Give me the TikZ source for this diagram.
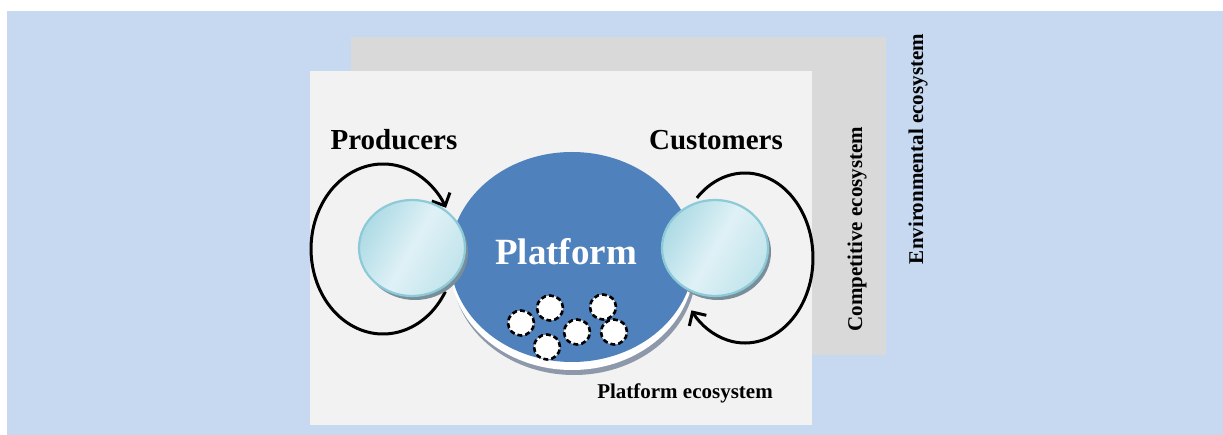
\documentclass[tikz,border=0pt]{standalone}
\usepackage{fontspec}
\setmainfont{Liberation Serif}
\usetikzlibrary{arrows.meta,shapes.geometric}
\definecolor{envblue}{HTML}{C6D9F1}
\definecolor{compgray}{HTML}{D9D9D9}
\definecolor{platbg}{HTML}{F2F2F2}
\definecolor{platblue}{HTML}{4F81BD}
\definecolor{shadegray}{HTML}{8D99AA}
\definecolor{bubdark}{HTML}{AEDBE5}
\definecolor{bublight}{HTML}{DFF1F6}
\definecolor{bubedge}{HTML}{8CCAD8}
\definecolor{bubshadow}{HTML}{7A8E9A}
\begin{document}
\begin{tikzpicture}[x=1pt,y=1pt,
  bub/.style={ellipse, inner sep=0pt, minimum width=106pt, minimum height=96pt,
    draw=bubedge, line width=2.2pt, shading=axis, left color=bubdark, right color=bubdark!60!bublight,
    middle color=bublight, shading angle=60},
  user/.style={ellipse, inner sep=0pt, minimum width=26pt, minimum height=25pt,
    fill=white, draw=black, line width=2.6pt, dash pattern=on 5pt off 3pt},
  loopline/.style={line width=3pt, -{Straight Barb[length=10pt,width=20pt,line width=3pt]}},
  lbl/.style={font=\bfseries\fontsize{29}{29}\selectfont, inner sep=0pt, anchor=base},
  small/.style={font=\bfseries\fontsize{21}{21}\selectfont, inner sep=0pt}
]
\useasboundingbox (0,0) rectangle (1223,-435);
\fill[white] (0,0) rectangle (1223,-435);
% ecosystem layers
\fill[envblue] (7,-11) rectangle (1223,-435);
\fill[compgray] (351,-37) rectangle (886,-355);
\fill[platbg] (310,-71) rectangle (812,-425);
% platform with reflections
\fill[shadegray] (574,-270) ellipse[x radius=122, y radius=105];
\fill[white] (572,-265) ellipse[x radius=122, y radius=105];
\node[ellipse, fill=platblue, inner sep=0pt, minimum width=244pt, minimum height=210pt] (platform) at (572,-257) {};
\node[lbl, font=\bfseries\fontsize{37}{37}\selectfont, text=white] (platlbl) at (566,-265) {Platform};
% users on the platform
\node[user] (u1) at (521,-323) {};
\node[user] (u2) at (550,-308) {};
\node[user] (u3) at (547,-347) {};
\node[user] (u4) at (577,-332) {};
\node[user] (u5) at (603,-307) {};
\node[user] (u6) at (614,-332) {};
% loops
\coordinate (prodstart) at (445.4,-291.5);
\coordinate (custstart) at (696.9,-197.9);
\draw[loopline] (prodstart) arc[start angle=-30, end angle=-331, x radius=72, y radius=85];
\draw[loopline] (custstart) arc[start angle=135, end angle=-142, x radius=68, y radius=85];
% producer / customer bubbles
\fill[bubshadow] (415,-252) ellipse[x radius=53, y radius=48];
\fill[bubshadow] (718,-252) ellipse[x radius=53, y radius=48];
\node[bub] (prod) at (412,-248) {};
\node[bub] (cust) at (715,-248) {};
% labels
\node[lbl] (producers) at (394,-150) {Producers};
\node[lbl] (customers) at (716,-150) {Customers};
\node[small, anchor=base] (plateco) at (685,-399) {Platform ecosystem};
\node[small, rotate=90] (compeco) at (857,-229) {Competitive ecosystem};
\node[small, rotate=90] (enveco) at (918,-149) {Environmental ecosystem};
\end{tikzpicture}
\end{document}
